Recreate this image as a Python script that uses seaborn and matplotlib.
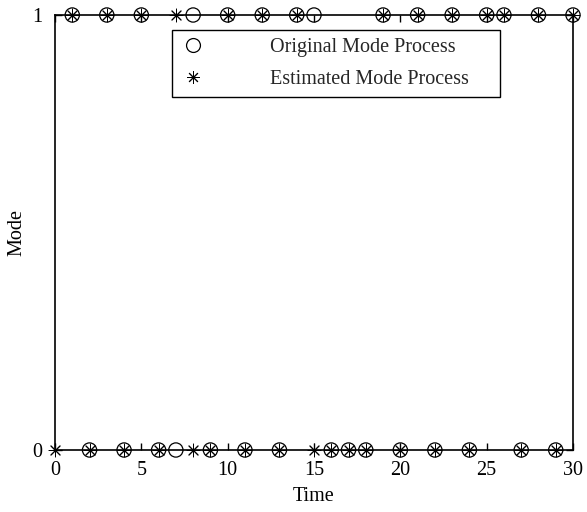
import numpy as np
import pandas as pd
import matplotlib
matplotlib.use("Agg")
import matplotlib.pyplot as plt
import seaborn as sns
from matplotlib.lines import Line2D

# Data
orig_time = list(range(1, 31))
orig_mode = [1, 0, 1, 0, 1, 0, 0, 1, 0, 1, 0, 1, 0, 1, 1,
             0, 0, 0, 1, 0, 1, 0, 1, 0, 1, 1, 0, 1, 0, 1]
est_time = list(range(0, 31))
est_mode = [0, 1, 0, 1, 0, 1, 0, 1, 0, 0, 1, 0, 1, 0, 1, 0,
            0, 0, 0, 1, 0, 1, 0, 1, 0, 1, 1, 0, 1, 0, 1]
x_ticks = [0, 5, 10, 15, 20, 25, 30]
y_ticks = [0, 1]

sns.set_theme(style="white")
plt.rcParams['font.family'] = ['Liberation Serif', 'DejaVu Serif']

fig = plt.figure(figsize=(5.87, 5.12), dpi=100)
ax = fig.add_axes([55/587, 1-450/512, 518/587, 435/512])

df_o = pd.DataFrame({"Time": orig_time, "Mode": orig_mode})
df_e = pd.DataFrame({"Time": est_time, "Mode": est_mode})

star = (8, 2, 0)
sns.scatterplot(data=df_o, x="Time", y="Mode", ax=ax, marker="o", s=105,
                facecolors="none", edgecolor="black", linewidth=0.9,
                clip_on=False, zorder=5, legend=False)
sns.scatterplot(data=df_e, x="Time", y="Mode", ax=ax, marker=star, s=85,
                color="black", linewidth=0.7,
                clip_on=False, zorder=6, legend=False)

ax.set_xlim(0, 30)
ax.set_ylim(0, 1)
ax.set_xticks(x_ticks)
ax.set_yticks(y_ticks)
ax.set_xticklabels([str(t) for t in x_ticks])
ax.set_yticklabels([str(t) for t in y_ticks])
ax.tick_params(direction="in", length=5, width=1, colors="black",
               labelsize=14.5, top=True, right=True, bottom=True, left=True)
ax.tick_params(axis="x", pad=8)
ax.tick_params(axis="y", pad=9)
for sp in ax.spines.values():
    sp.set_visible(True)
    sp.set_color("black")
    sp.set_linewidth(1.2)
ax.set_xlabel("Time", fontsize=14.5, color="black", labelpad=5)
ax.set_ylabel("Mode", fontsize=14.5, color="black", labelpad=4)
ax.grid(False)

handles = [
    Line2D([], [], linestyle="none", marker="o", markersize=10,
           markerfacecolor="none", markeredgecolor="black", markeredgewidth=0.9),
    Line2D([], [], linestyle="none", marker=star, markersize=9,
           color="black", markeredgewidth=0.7),
]
x0 = (172-55)/518
x1 = (500-55)/518
ytop = 1-(30-15)/435
ybot = 1-(97-15)/435
leg = ax.legend(handles, ["Original Mode Process", "Estimated Mode Process"],
                loc="upper left", bbox_to_anchor=(x0, ybot, x1-x0, ytop-ybot),
                mode="expand", fontsize=14.5, frameon=True, fancybox=False,
                edgecolor="black", framealpha=1, borderpad=0.4,
                handlelength=1.3, handletextpad=3.15, labelspacing=0.65,
                borderaxespad=0)
leg.get_frame().set_linewidth(1.0)

fig.savefig("out.png", dpi=100)
